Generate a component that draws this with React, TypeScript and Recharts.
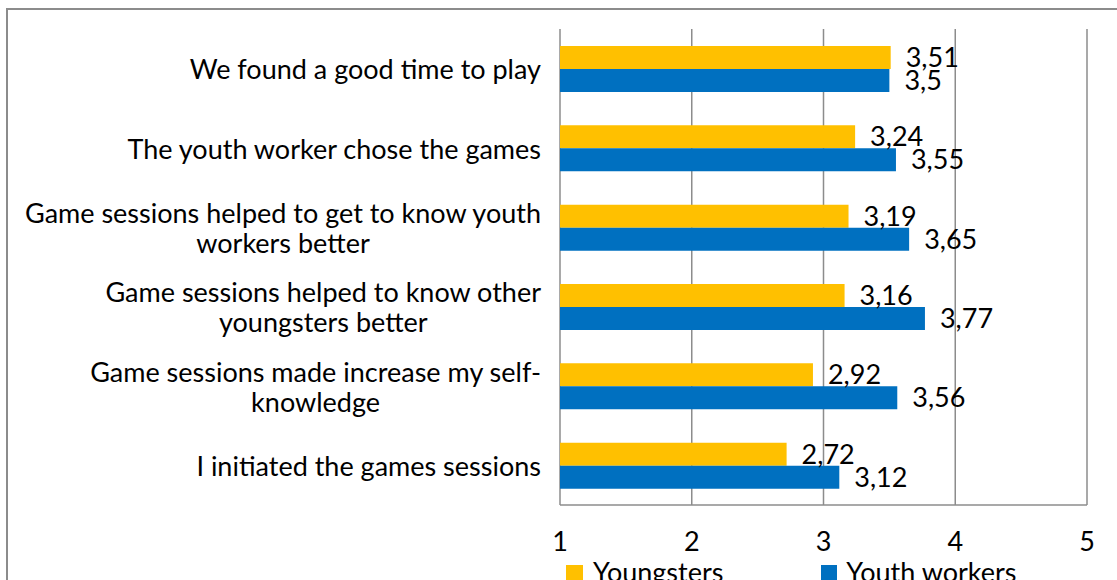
import React from 'react';
import { BarChart, Bar, XAxis, YAxis, CartesianGrid, LabelList } from 'recharts';

// statements, listed top to bottom as in the picture
const statements = [
  'We found a good time to play',
  'The youth worker chose the games',
  'Game sessions helped to get to know youth workers better',
  'Game sessions helped to know other youngsters better',
  'Game sessions made increase my self-knowledge',
  'I initiated the games sessions',
];

// how the category labels wrap in the reference
const statementLines = [
  ['We found a good time to play'],
  ['The youth worker chose the games'],
  ['Game sessions helped to get to know youth', 'workers better'],
  ['Game sessions helped to know other', 'youngsters better'],
  ['Game sessions made increase my self-', 'knowledge'],
  ['I initiated the games sessions'],
];

const youngsters = [3.51, 3.24, 3.19, 3.16, 2.92, 2.72];
const youthWorkers = [3.5, 3.55, 3.65, 3.77, 3.56, 3.12];

const xTicks = [1, 2, 3, 4, 5];

const FONT = 'Lato, "Open Sans", sans-serif';
const FS = 27;
const YELLOW = '#FFC000';
const BLUE = '#0070C0';
const GRID = '#8c8c8c';

const data = statements.map((s, i) => ({
  name: s,
  youngsters: youngsters[i],
  youthWorkers: youthWorkers[i],
}));

const commaFmt = (v: any) => String(v).replace('.', ',');

// second line centered under the first one
const MultiLineRest = ({ x, y, lines, lh }: any) => {
  const ref = React.useRef<SVGTextElement>(null);
  const [cx, setCx] = React.useState<number | null>(null);
  React.useLayoutEffect(() => {
    const prev = ref.current?.previousSibling as SVGTextElement | null;
    if (prev && prev.getBBox) {
      const b = prev.getBBox();
      setCx(b.x + b.width / 2);
    }
  }, []);
  return (
    <>
      {lines.slice(1).map((ln: string, i: number) => (
        <text
          key={i}
          ref={i === 0 ? ref : undefined}
          x={cx ?? x}
          y={y + lh * (i + 1)}
          textAnchor={cx == null ? 'end' : 'middle'}
          dominantBaseline="central"
          fontSize={FS}
          fontFamily={FONT}
          fill="#000"
        >
          {ln}
        </text>
      ))}
    </>
  );
};

const CategoryTick = (props: any) => {
  const { x, y, payload } = props;
  const idx = statements.indexOf(payload.value);
  const lines = statementLines[idx] || [payload.value];
  const lh = 30;
  const startY = y - ((lines.length - 1) * lh) / 2;
  return (
    <g>
      <text x={x} y={startY} textAnchor="end" dominantBaseline="central" fontSize={FS} fontFamily={FONT} fill="#000">
        {lines[0]}
      </text>
      {lines.length > 1 && <MultiLineRest x={x} y={startY} lines={lines} lh={lh} />}
    </g>
  );
};

export default function App() {
  return (
    <div
      style={{
        position: 'fixed',
        left: 0,
        top: 0,
        width: 1117,
        height: 580,
        overflow: 'hidden',
        background: '#fff',
      }}
    >
      {/* frame: only top and left edges are in view */}
      <div style={{ position: 'absolute', left: 6, top: 8, width: 1111, height: 2, background: GRID }} />
      <div style={{ position: 'absolute', left: 6, top: 8, width: 2, height: 572, background: GRID }} />
      <div style={{ position: 'absolute', left: 0, top: 0 }}>
        <BarChart
          width={1117}
          height={580}
          data={data}
          layout="vertical"
          margin={{ top: 29, right: 30, bottom: 35, left: 0 }}
          barGap={0}
          barSize={23}
        >
          <CartesianGrid horizontal={false} stroke={GRID} strokeWidth={1.5} />
          <XAxis
            type="number"
            domain={[1, 5]}
            ticks={xTicks}
            interval={0}
            axisLine={{ stroke: GRID, strokeWidth: 1.5 }}
            tickLine={false}
            tickSize={0}
            tickMargin={27}
            height={40}
            tick={{ fontSize: FS, fontFamily: FONT, fill: '#000' }}
          />
          <YAxis
            type="category"
            dataKey="name"
            width={560}
            axisLine={false}
            tickLine={false}
            tickSize={0}
            tickMargin={19}
            interval={0}
            tick={<CategoryTick />}
          />
          <Bar dataKey="youngsters" name="Youngsters" fill={YELLOW} isAnimationActive={false}>
            <LabelList
              dataKey="youngsters"
              position="right"
              offset={15}
              formatter={commaFmt}
              style={{ fontSize: FS, fontFamily: FONT, fill: '#000' }}
            />
          </Bar>
          <Bar dataKey="youthWorkers" name="Youth workers" fill={BLUE} isAnimationActive={false}>
            <LabelList
              dataKey="youthWorkers"
              position="right"
              offset={15}
              formatter={commaFmt}
              style={{ fontSize: FS, fontFamily: FONT, fill: '#000' }}
            />
          </Bar>
        </BarChart>
      </div>
      {/* keep the right margin blank */}
      <div style={{ position: 'absolute', left: 1095, top: 11, width: 30, height: 580, background: '#fff' }} />
      <div
        style={{
          position: 'absolute',
          left: 566,
          top: 555,
          display: 'flex',
          alignItems: 'center',
          fontFamily: FONT,
          fontSize: FS,
          lineHeight: '34px',
          color: '#000',
          whiteSpace: 'nowrap',
        }}
      >
        <span style={{ width: 17, height: 15, background: YELLOW, display: 'inline-block', marginRight: 10 }} />
        <span style={{ marginRight: 98 }}>Youngsters</span>
        <span style={{ width: 16, height: 15, background: BLUE, display: 'inline-block', marginRight: 9 }} />
        <span>Youth workers</span>
      </div>
    </div>
  );
}
